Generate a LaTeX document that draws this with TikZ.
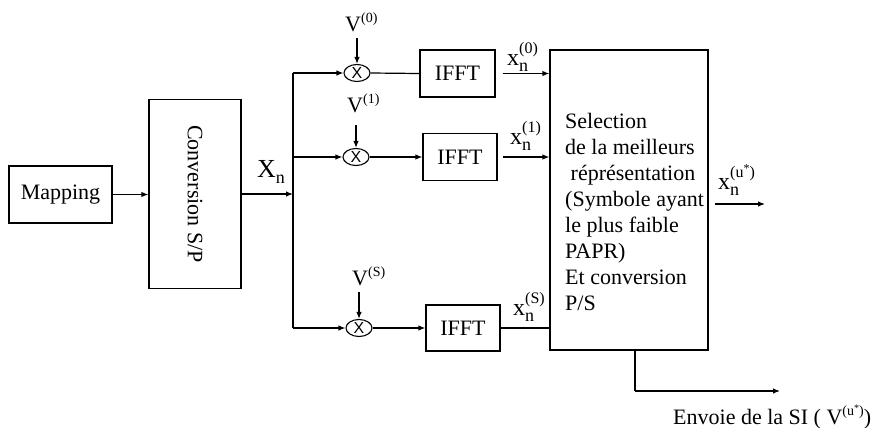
\documentclass[tikz,border=0pt]{standalone}
\usepackage{fontspec}
\setmainfont{Liberation Serif}
\newfontfamily\sansf{Liberation Sans}
\usetikzlibrary{arrows.meta,shapes.geometric}
\newcommand{\xlab}[1]{{\fontsize{24}{24}\selectfont x}\rlap{\raisebox{12pt}{\fontsize{16}{16}\selectfont #1}}\raisebox{-6pt}{\fontsize{18}{18}\selectfont n}}
\newcommand{\vlab}[1]{V\raisebox{9pt}{\fontsize{14}{14}\selectfont #1}}
\begin{document}
\begin{tikzpicture}[x=1pt,y=-1pt,
  txt/.style={font=\fontsize{22}{26}\selectfont,inner sep=0pt},
  blk/.style={draw,line width=1.2pt,inner sep=0pt,font=\fontsize{22}{26}\selectfont},
  mult/.style={draw,ellipse,line width=1.1pt,minimum width=26pt,minimum height=17pt,inner sep=0pt,font=\sansf\fontsize{16}{16}\selectfont},
  wire/.style={line width=1.2pt},
  arr/.style={line width=1.2pt,-{Latex[length=7pt,width=5.5pt]}}]
\useasboundingbox (0,0) rectangle (873,428);

\node[blk,minimum width=103pt,minimum height=57pt] (map) at (60.5,194.5) {Mapping};
\node[blk,minimum width=92pt,minimum height=189pt] (conv) at (195,194) {\rotatebox{-90}{Conversion S/P}};
\node[blk,minimum width=75pt,minimum height=47pt] (ifft0) at (457.5,73.5) {IFFT};
\node[blk,minimum width=74pt,minimum height=47pt] (ifft1) at (460,157) {IFFT};
\node[blk,minimum width=74pt,minimum height=46pt] (iffts) at (463,328) {IFFT};
\node[blk,minimum width=158pt,minimum height=300pt] (sel) at (629,200) {};
\node[txt,anchor=north west,align=left] (seltxt) at (565,113) {Selection\\de la meilleurs\\\ réprésentation\\(Symbole ayant\\le plus faible\\PAPR)\\Et conversion\\P/S};

\node[mult] (m0) at (357,73) {X};
\node[mult] (m1) at (356,157) {X};
\node[mult] (ms) at (359,328) {X};

\node[txt,anchor=base west] (v0) at (345,32) {\vlab{(0)}};
\node[txt,anchor=base west] (v1) at (347,112) {\vlab{(1)}};
\node[txt,anchor=base west] (vs) at (352,285) {\vlab{(S)}};
\coordinate (v0a) at (357,38);
\coordinate (v1a) at (356,125);
\coordinate (vsa) at (359,292);

\node[txt,anchor=base west] (xn) at (257,177) {{\fontsize{26}{26}\selectfont X}\raisebox{-6pt}{\fontsize{18}{18}\selectfont n}};
\node[txt,anchor=base west] (x0) at (507,66) {\xlab{(0)}};
\node[txt,anchor=base west] (x1) at (510,144) {\xlab{(1)}};
\node[txt,anchor=base west] (xs) at (513,315) {\xlab{(S)}};
\node[txt,anchor=base west] (xu) at (718,189) {\xlab{(u\raisebox{5pt}{\fontsize{12}{12}\selectfont *})}};
\node[txt,anchor=base west] (si) at (673,424) {Envoie de la SI ( V\raisebox{9pt}{\fontsize{14}{14}\selectfont (u\raisebox{4pt}{\fontsize{10}{10}\selectfont *})})};

\coordinate (bt) at (293,73);
\coordinate (bb) at (293,328);
\coordinate (bx) at (293,194);
\coordinate (xuend) at (765,204);
\coordinate (xustart) at (715,204);
\coordinate (sicorner) at (635,391);
\coordinate (siend) at (780,391);

\draw[arr] (map.east) -- (map.east -| conv.west);
\draw[arr] (conv.east |- bx) -- (bx);
\draw[wire] (bt) -- (bb);
\draw[arr] (bt) -- (m0.west);
\draw[arr] (bt |- m1) -- (m1.west);
\draw[arr] (bb) -- (ms.west);
\draw[arr] (v0a) -- (m0.north);
\draw[arr] (v1a) -- (m1.north);
\draw[arr] (vsa) -- (ms.north);
\draw[wire] (m0.east) -- (ifft0.west);
\draw[arr] (m1.east) -- (ifft1.west);
\draw[arr] (ms.east) -- (iffts.west);
\draw[arr] ([xshift=7pt]ifft0.east) -- (ifft0.east -| sel.west);
\draw[arr] ([xshift=5pt]ifft1.east) -- (ifft1.east -| sel.west);
\draw[wire] (iffts.east) -- (iffts.east -| sel.west);
\draw[arr] (xustart) -- (xuend);
\draw[wire] (sel.south -| sicorner) -- (sicorner);
\draw[arr] (sicorner) -- (siend);
\end{tikzpicture}
\end{document}
